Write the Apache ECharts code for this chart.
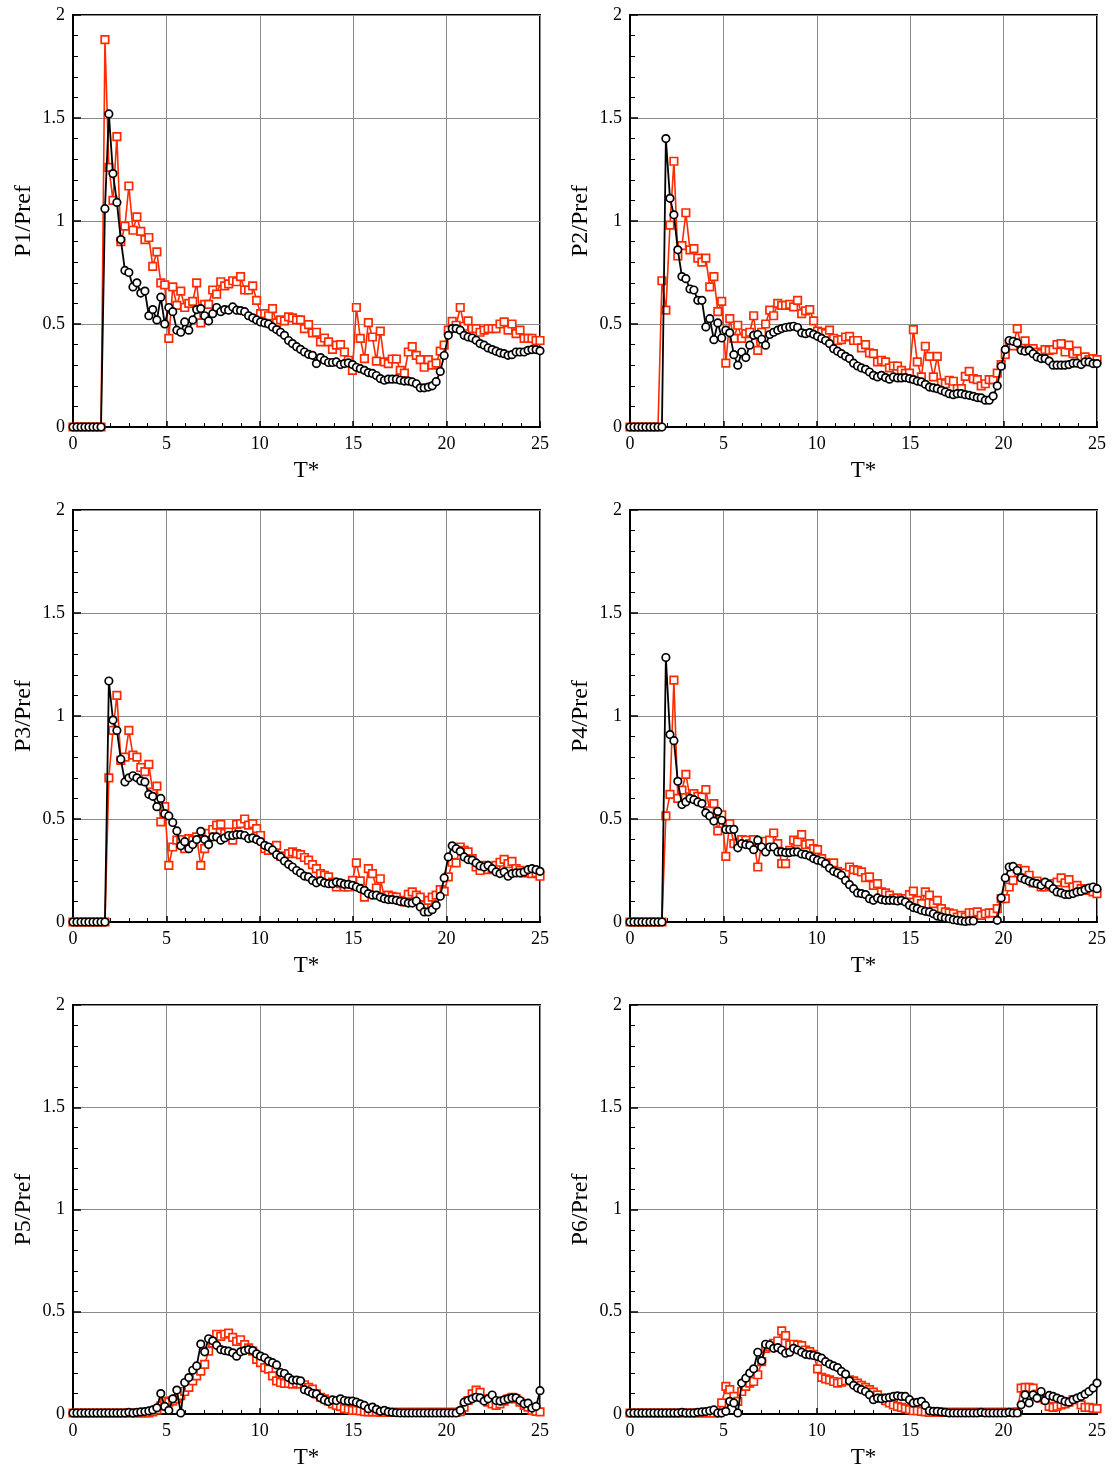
<!DOCTYPE html>
<html>
<head>
<meta charset="utf-8">
<script src="https://cdn.jsdelivr.net/npm/echarts@6/dist/echarts.min.js"></script>
<style>
html,body{margin:0;padding:0;background:#fff;}
#chart{width:1112px;height:1470px;}
</style>
</head>
<body>
<div id="chart"></div>
<script>
// sample times T*
const T = [0,0.21,0.43,0.64,0.85,1.07,1.28,1.50,1.71,1.92,
2.14,2.35,2.56,2.78,2.99,3.21,3.42,3.63,3.85,4.06,
4.27,4.49,4.70,4.91,5.13,5.34,5.56,5.77,5.98,6.20,
6.41,6.62,6.84,7.05,7.26,7.48,7.69,7.91,8.12,8.33,
8.55,8.76,8.97,9.19,9.40,9.62,9.83,10.04,10.26,10.47,
10.68,10.90,11.11,11.32,11.54,11.75,11.97,12.18,12.39,12.61,
12.82,13.03,13.25,13.46,13.68,13.89,14.10,14.32,14.53,14.74,
14.96,15.17,15.38,15.60,15.81,16.03,16.24,16.45,16.67,16.88,
17.09,17.31,17.52,17.74,17.95,18.16,18.38,18.59,18.80,19.02,
19.23,19.44,19.66,19.87,20.09,20.30,20.51,20.73,20.94,21.15,
21.37,21.58,21.79,22.01,22.22,22.44,22.65,22.86,23.08,23.29,
23.50,23.72,23.93,24.15,24.36,24.57,24.79,25.00];

const xTicks = [0,5,10,15,20,25];
const yTicks = [0,0.5,1,1.5,2];
const yNames = ['P1/Pref','P2/Pref','P3/Pref','P4/Pref','P5/Pref','P6/Pref'];
const xName = 'T*';

// black circles
const B1 = [0,0,0,0,0,0,0,0,1.06,1.52,
1.23,1.09,0.91,0.76,0.75,0.68,0.70,0.65,0.66,0.54,
0.57,0.52,0.63,0.50,0.58,0.56,0.47,0.46,0.51,0.47,
0.52,0.57,0.575,0.54,0.515,0.55,0.58,0.56,0.57,0.567,
0.583,0.567,0.565,0.56,0.54,0.53,0.52,0.51,0.505,0.50,
0.486,0.473,0.46,0.445,0.42,0.405,0.39,0.377,0.364,0.353,
0.348,0.308,0.337,0.324,0.313,0.313,0.316,0.303,0.308,0.311,
0.303,0.29,0.283,0.275,0.264,0.26,0.25,0.235,0.227,0.232,
0.232,0.232,0.227,0.223,0.223,0.219,0.21,0.19,0.19,0.194,
0.2,0.22,0.27,0.347,0.445,0.478,0.478,0.47,0.445,0.437,
0.432,0.421,0.405,0.397,0.384,0.376,0.368,0.36,0.356,0.348,
0.351,0.364,0.364,0.364,0.372,0.376,0.376,0.37];
// red squares
const R1 = [0,0,0,0,0,0,0,0,1.88,1.26,
1.10,1.41,0.90,0.975,1.17,0.955,1.02,0.95,0.91,0.92,
0.78,0.85,0.70,0.69,0.43,0.68,0.59,0.66,0.58,0.60,
0.61,0.70,0.505,0.595,0.595,0.665,0.645,0.705,0.685,0.695,
0.71,0.705,0.73,0.665,0.665,0.685,0.615,0.55,0.55,0.54,
0.575,0.505,0.52,0.515,0.535,0.53,0.52,0.52,0.478,0.497,
0.457,0.46,0.413,0.432,0.413,0.377,0.397,0.40,0.364,0.324,
0.275,0.58,0.43,0.332,0.507,0.437,0.32,0.465,0.316,0.308,
0.33,0.33,0.275,0.262,0.364,0.39,0.348,0.327,0.29,0.327,
0.30,0.31,0.368,0.397,0.47,0.513,0.494,0.58,0.489,0.515,
0.478,0.478,0.46,0.47,0.478,0.478,0.478,0.50,0.51,0.47,
0.50,0.453,0.47,0.43,0.43,0.43,0.42,0.42];

const B2 = [0,0,0,0,0,0,0,0,0,1.40,
1.11,1.03,0.86,0.73,0.72,0.67,0.665,0.615,0.615,0.486,
0.526,0.424,0.505,0.432,0.47,0.457,0.351,0.30,0.364,0.337,
0.397,0.445,0.449,0.426,0.397,0.449,0.46,0.47,0.478,0.483,
0.486,0.489,0.483,0.457,0.453,0.458,0.45,0.44,0.43,0.42,
0.405,0.38,0.368,0.356,0.343,0.332,0.31,0.296,0.287,0.28,
0.267,0.251,0.243,0.251,0.24,0.232,0.243,0.238,0.238,0.24,
0.235,0.23,0.223,0.219,0.207,0.194,0.19,0.186,0.178,0.17,
0.162,0.157,0.162,0.162,0.157,0.154,0.149,0.143,0.141,0.13,
0.13,0.15,0.2,0.295,0.376,0.42,0.416,0.408,0.372,0.368,
0.372,0.356,0.34,0.332,0.332,0.32,0.30,0.30,0.30,0.30,
0.303,0.31,0.31,0.303,0.316,0.316,0.308,0.308];
const R2 = [0,0,0,0,0,0,0,0,0.71,0.567,
0.98,1.29,0.83,0.88,1.04,0.86,0.866,0.82,0.80,0.82,
0.68,0.73,0.56,0.61,0.31,0.526,0.43,0.494,0.43,0.453,
0.46,0.54,0.372,0.46,0.50,0.567,0.54,0.60,0.59,0.59,
0.595,0.583,0.615,0.55,0.564,0.57,0.515,0.466,0.46,0.453,
0.47,0.43,0.42,0.424,0.437,0.44,0.42,0.42,0.384,0.40,
0.36,0.356,0.316,0.324,0.316,0.287,0.296,0.296,0.275,0.26,
0.262,0.473,0.316,0.243,0.392,0.343,0.243,0.343,0.214,0.21,
0.227,0.222,0.186,0.186,0.246,0.27,0.235,0.23,0.2,0.21,
0.23,0.23,0.262,0.303,0.351,0.405,0.394,0.478,0.39,0.418,
0.38,0.38,0.364,0.356,0.376,0.372,0.376,0.40,0.405,0.364,
0.397,0.356,0.368,0.332,0.34,0.327,0.332,0.327];

const B3 = [0,0,0,0,0,0,0,0,0,1.17,
0.98,0.93,0.79,0.68,0.70,0.71,0.70,0.685,0.68,0.62,
0.61,0.56,0.60,0.526,0.515,0.483,0.442,0.37,0.39,0.356,
0.376,0.40,0.44,0.40,0.376,0.413,0.413,0.397,0.408,0.42,
0.42,0.424,0.424,0.42,0.405,0.408,0.40,0.39,0.372,0.364,
0.35,0.327,0.316,0.296,0.28,0.267,0.25,0.238,0.223,0.219,
0.202,0.19,0.2,0.19,0.186,0.186,0.194,0.19,0.183,0.183,
0.178,0.17,0.162,0.154,0.138,0.13,0.13,0.121,0.113,0.109,
0.109,0.105,0.10,0.097,0.092,0.092,0.102,0.073,0.049,0.049,
0.06,0.081,0.125,0.214,0.316,0.37,0.356,0.343,0.316,0.303,
0.30,0.287,0.272,0.267,0.275,0.259,0.243,0.235,0.243,0.222,
0.235,0.238,0.238,0.243,0.254,0.259,0.254,0.246];
const R3 = [0,0,0,0,0,0,0,0,0,0.70,
0.93,1.10,0.785,0.80,0.93,0.81,0.80,0.75,0.73,0.765,
0.63,0.66,0.486,0.56,0.275,0.364,0.397,0.40,0.356,0.405,
0.397,0.413,0.275,0.356,0.43,0.449,0.47,0.474,0.43,0.437,
0.397,0.474,0.478,0.50,0.47,0.478,0.453,0.42,0.356,0.348,
0.36,0.372,0.32,0.32,0.332,0.34,0.332,0.327,0.313,0.30,
0.279,0.259,0.235,0.227,0.219,0.194,0.17,0.186,0.17,0.17,
0.202,0.287,0.2,0.121,0.259,0.235,0.165,0.21,0.121,0.13,
0.125,0.121,0.105,0.097,0.134,0.146,0.13,0.121,0.081,0.105,
0.121,0.13,0.157,0.149,0.219,0.29,0.287,0.364,0.348,0.34,
0.308,0.267,0.25,0.275,0.254,0.259,0.275,0.29,0.304,0.283,
0.294,0.259,0.251,0.238,0.238,0.235,0.238,0.222];

const B4 = [0,0,0,0,0,0,0,0,0,1.284,
0.91,0.88,0.683,0.57,0.583,0.60,0.594,0.583,0.575,0.53,
0.515,0.49,0.537,0.494,0.449,0.449,0.45,0.36,0.38,0.376,
0.372,0.351,0.397,0.364,0.34,0.364,0.364,0.34,0.34,0.337,
0.337,0.34,0.34,0.33,0.327,0.32,0.308,0.30,0.295,0.283,
0.262,0.246,0.238,0.227,0.202,0.181,0.162,0.141,0.138,0.133,
0.113,0.105,0.117,0.109,0.105,0.105,0.105,0.102,0.105,0.097,
0.081,0.07,0.065,0.057,0.052,0.049,0.04,0.029,0.024,0.019,
0.016,0.011,0.008,0.005,0.003,0.005,0.005,-0.01,-0.02,-0.02,
-0.02,-0.01,0.008,0.117,0.214,0.267,0.27,0.25,0.214,0.206,
0.198,0.19,0.186,0.178,0.194,0.181,0.162,0.146,0.141,0.134,
0.133,0.138,0.146,0.149,0.157,0.165,0.17,0.162];
const R4 = [0,0,0,0,0,0,0,0,0,0.515,
0.62,1.174,0.60,0.64,0.717,0.607,0.623,0.61,0.607,0.643,
0.54,0.575,0.442,0.52,0.319,0.478,0.38,0.384,0.40,0.397,
0.38,0.40,0.267,0.38,0.392,0.397,0.432,0.38,0.283,0.283,
0.348,0.397,0.389,0.424,0.376,0.38,0.356,0.351,0.308,0.287,
0.279,0.287,0.246,0.235,0.238,0.267,0.254,0.251,0.243,0.215,
0.219,0.178,0.186,0.146,0.141,0.13,0.113,0.117,0.113,0.113,
0.133,0.15,0.105,0.089,0.146,0.13,0.089,0.105,0.065,0.049,
0.044,0.04,0.024,0.032,0.024,0.045,0.045,0.049,0.032,0.04,
0.044,0.044,0.065,0.113,0.113,0.17,0.202,0.259,0.243,0.251,
0.227,0.19,0.198,0.17,0.17,0.178,0.186,0.194,0.214,0.19,
0.206,0.17,0.178,0.162,0.162,0.154,0.146,0.138];

const B5 = [0.005,0.005,0.005,0.005,0.005,0.005,0.005,0.005,0.005,0.005,
0.005,0.005,0.005,0.005,0.008,0.005,0.008,0.01,0.012,0.015,
0.02,0.03,0.10,0.037,0.018,0.074,0.117,0.005,0.154,0.178,
0.214,0.235,0.342,0.304,0.368,0.358,0.336,0.315,0.31,0.307,
0.299,0.283,0.304,0.31,0.315,0.31,0.294,0.283,0.275,0.259,
0.251,0.24,0.203,0.198,0.178,0.166,0.166,0.162,0.119,0.111,
0.101,0.098,0.079,0.069,0.061,0.069,0.066,0.074,0.066,0.063,
0.063,0.058,0.05,0.042,0.026,0.034,0.023,0.013,0.018,0.01,
0.008,0.006,0.005,0.005,0.005,0.005,0.005,0.005,0.005,0.005,
0.005,0.005,0.005,0.005,0.005,0.005,0.005,0.018,0.058,0.066,
0.074,0.082,0.079,0.063,0.074,0.093,0.066,0.063,0.069,0.074,
0.079,0.079,0.066,0.05,0.053,0.029,0.037,0.114];
const R5 = [0.005,0.005,0.005,0.005,0.005,0.005,0.005,0.005,0.005,0.005,
0.005,0.005,0.005,0.005,0.005,0.005,0.005,0.005,0.005,0.005,
0.01,0.02,0.04,0.063,0.058,0.063,0.074,0.09,0.11,0.13,
0.162,0.186,0.21,0.243,0.307,0.347,0.39,0.38,0.39,0.395,
0.375,0.355,0.363,0.339,0.323,0.307,0.267,0.251,0.227,0.219,
0.186,0.162,0.154,0.15,0.15,0.146,0.15,0.146,0.143,0.13,
0.122,0.098,0.082,0.074,0.063,0.05,0.042,0.037,0.026,0.023,
0.018,0.018,0.015,0.012,0.01,0.01,0.01,0.008,0.008,0.008,
0.008,0.008,0.008,0.008,0.008,0.008,0.008,0.008,0.008,0.008,
0.008,0.008,0.008,0.008,0.008,0.008,0.008,0.012,0.034,0.066,
0.098,0.117,0.106,0.074,0.058,0.05,0.042,0.05,0.063,0.074,
0.082,0.074,0.058,0.042,0.034,0.018,0.013,0.01];

const B6 = [0.005,0.005,0.005,0.005,0.005,0.005,0.005,0.005,0.005,0.005,
0.005,0.005,0.005,0.008,0.005,0.005,0.005,0.008,0.01,0.012,
0.016,0.02,0.005,0.005,0.013,0.062,0.054,0.005,0.151,0.175,
0.2,0.221,0.302,0.26,0.341,0.338,0.321,0.325,0.313,0.297,
0.302,0.321,0.313,0.302,0.292,0.289,0.286,0.281,0.273,0.256,
0.244,0.235,0.227,0.208,0.195,0.162,0.14,0.127,0.119,0.11,
0.094,0.07,0.078,0.075,0.078,0.081,0.086,0.089,0.086,0.086,
0.07,0.054,0.057,0.062,0.042,0.016,0.013,0.013,0.01,0.008,
0.005,0.005,0.005,0.005,0.005,0.005,0.005,0.005,0.008,0.005,
0.005,0.005,0.005,0.005,0.005,0.008,0.005,0.005,0.045,0.094,
0.054,0.094,0.078,0.11,0.065,0.091,0.086,0.078,0.07,0.062,
0.058,0.07,0.078,0.086,0.097,0.11,0.127,0.151];
const R6 = [0.005,0.005,0.005,0.005,0.005,0.005,0.005,0.005,0.005,0.005,
0.005,0.005,0.005,0.005,0.005,0.005,0.005,0.005,0.005,0.005,
0.005,0.005,0.005,0.054,0.135,0.119,0.086,0.062,0.11,0.135,
0.151,0.159,0.192,0.256,0.321,0.33,0.346,0.357,0.406,0.383,
0.338,0.341,0.338,0.334,0.313,0.305,0.292,0.221,0.179,0.172,
0.167,0.159,0.151,0.156,0.162,0.167,0.162,0.151,0.14,0.13,
0.119,0.107,0.094,0.078,0.065,0.054,0.045,0.037,0.032,0.026,
0.021,0.016,0.016,0.013,0.01,0.008,0.008,0.008,0.008,0.008,
0.008,0.008,0.008,0.008,0.008,0.008,0.008,0.008,0.008,0.008,
0.008,0.008,0.008,0.008,0.008,0.008,0.008,0.01,0.127,0.13,
0.13,0.127,0.097,0.078,0.07,0.037,0.032,0.037,0.045,0.049,
0.058,0.07,0.07,0.045,0.032,0.032,0.029,0.026];

const blacks = [B1,B2,B3,B4,B5,B6];
const reds = [R1,R2,R3,R4,R5,R6];

const FONT = "'Liberation Serif', 'Times New Roman', serif";
const RED = '#ff2a00';
const lefts = [73, 630];
const tops = [15, 510, 1005];
const W = 467, H = 412;

const grids = [], xAxes = [], yAxes = [], series = [];
for (let k = 0; k < 6; k++) {
  const col = k % 2, row = Math.floor(k / 2);
  grids.push({left: lefts[col], top: tops[row], width: W, height: H,
    show: true, borderColor: '#000', borderWidth: 2, backgroundColor: 'transparent'});
  xAxes.push({
    type: 'value', gridIndex: k, min: xTicks[0], max: xTicks[xTicks.length-1],
    interval: xTicks[1]-xTicks[0],
    name: xName, nameLocation: 'middle', nameGap: 32,
    nameTextStyle: {fontFamily: FONT, fontSize: 23, color: '#000'},
    axisLine: {show: true, onZero: false, lineStyle: {color: '#000', width: 2}},
    axisTick: {show: true, inside: true, length: 6, lineStyle: {color: '#000', width: 1.5}},
    minorTick: {show: true, splitNumber: 5, length: 4, lineStyle: {color: '#000', width: 1}},
    splitLine: {show: true, lineStyle: {color: '#8a8a8a', width: 1}},
    axisLabel: {fontFamily: FONT, fontSize: 18, color: '#000', margin: 8}
  });
  yAxes.push({
    type: 'value', gridIndex: k, min: yTicks[0], max: yTicks[yTicks.length-1],
    interval: yTicks[1]-yTicks[0],
    name: yNames[k], nameLocation: 'middle', nameGap: 37,
    nameTextStyle: {fontFamily: FONT, fontSize: 24, color: '#000'},
    axisLine: {show: true, onZero: false, lineStyle: {color: '#000', width: 2}},
    axisTick: {show: true, inside: true, length: 8, lineStyle: {color: '#000', width: 1.5}},
    minorTick: {show: true, splitNumber: 5, length: 5, lineStyle: {color: '#000', width: 1}},
    splitLine: {show: true, lineStyle: {color: '#8a8a8a', width: 1}},
    axisLabel: {fontFamily: FONT, fontSize: 18, color: '#000', margin: 8}
  });
  series.push({
    type: 'line', xAxisIndex: k, yAxisIndex: k,
    data: T.map((t, i) => [t, reds[k][i]]),
    symbol: 'rect', symbolSize: 7.5, showAllSymbol: true, clip: true,
    lineStyle: {color: RED, width: 1.6},
    itemStyle: {color: '#fff', borderColor: RED, borderWidth: 1.7},
    animation: false, z: 3
  });
  series.push({
    type: 'line', xAxisIndex: k, yAxisIndex: k,
    data: T.map((t, i) => [t, blacks[k][i]]),
    symbol: 'circle', symbolSize: 7.5, showAllSymbol: true, clip: true,
    lineStyle: {color: '#000', width: 1.8},
    itemStyle: {color: '#fff', borderColor: '#000', borderWidth: 1.7},
    animation: false, z: 4
  });
}

const chart = echarts.init(document.getElementById('chart'), null, {renderer: 'canvas'});
chart.setOption({
  animation: false,
  backgroundColor: '#fff',
  grid: grids, xAxis: xAxes, yAxis: yAxes, series: series
});
</script>
</body>
</html>
